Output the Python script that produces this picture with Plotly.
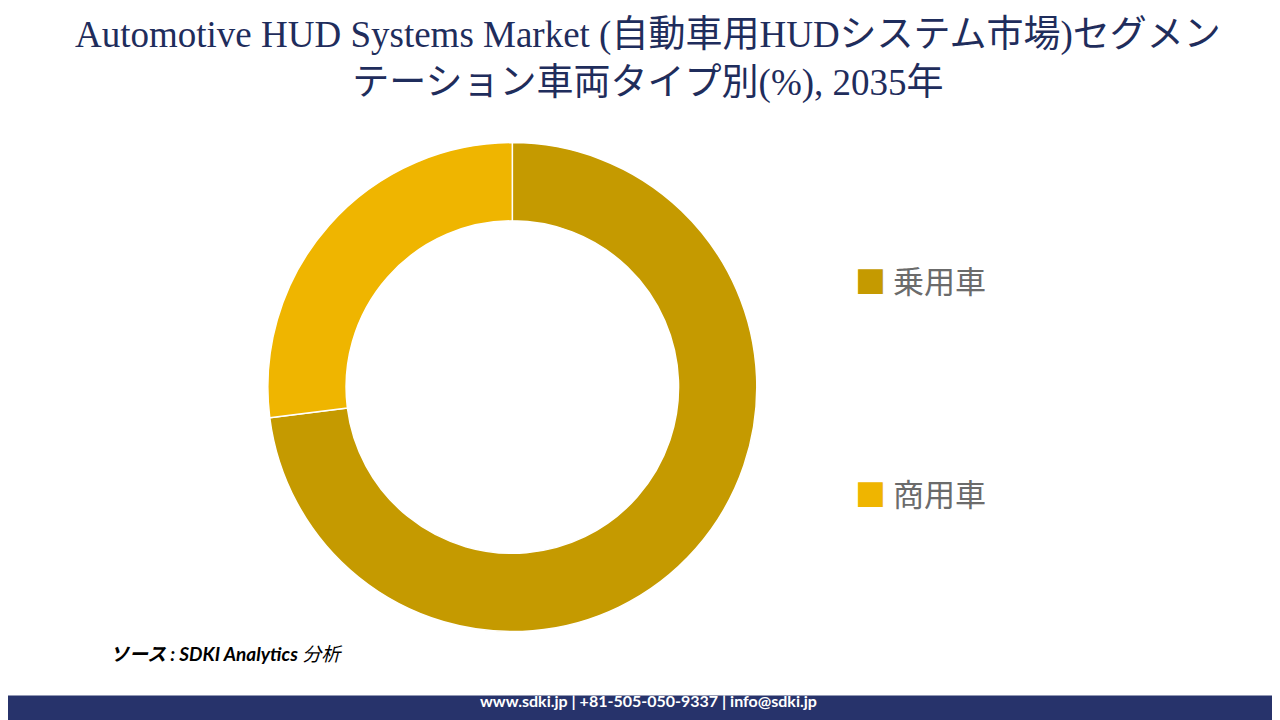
import plotly.graph_objects as go

# vehicle type share, 2035 (%)
labels = ["乗用車", "商用車"]
values = [73, 27]
colors = ["#c59a00", "#efb500"]

title = ("Automotive HUD Systems Market (自動車用HUDシステム市場)セグメン<br>"
         "テーション車両タイプ別(%), 2035年")

fig = go.Figure()
fig.add_trace(go.Pie(
    labels=labels, values=values, hole=0.68, sort=False, direction="clockwise",
    rotation=0, marker=dict(colors=colors, line=dict(color="white", width=1.5)),
    textinfo="none", hoverinfo="label+percent", showlegend=False,
    domain=dict(x=[0.203, 0.585], y=[0.133, 0.814]),
))

# legend drawn by hand so the entries sit far apart
leg_y = [0.623, 0.327]
for lab, col, y in zip(labels, colors, leg_y):
    fig.add_annotation(x=0.66, y=y, xref="paper", yref="paper", xanchor="left",
                       yanchor="middle", showarrow=False,
                       text=f"<span style='color:{col}'>■</span> {lab}",
                       font=dict(size=31, color="#6b6b6b",
                                 family="Noto Sans CJK JP"))

fig.add_annotation(x=0.5, y=0.995, xref="paper", yref="paper", yanchor="top",
                   showarrow=False, text=title,
                   font=dict(size=37, color="#1f2d5c",
                             family="Liberation Serif, Noto Sans CJK JP"))

fig.add_annotation(x=0.078, y=0.085, xref="paper", yref="paper", xanchor="left",
                   showarrow=False, text="<i><b>ソース : SDKI Analytics</b> 分析</i>",
                   font=dict(size=19, color="black", family="Lato, Noto Sans CJK JP"))

fig.add_shape(type="rect", xref="paper", yref="paper", x0=-0.01, x1=1.01, y0=-0.01, y1=0.045,
              fillcolor="#27336b", line_width=0)
fig.add_annotation(x=0.5, y=0.0225, xref="paper", yref="paper", showarrow=False,
                   text="<b>www.sdki.jp | +81-505-050-9337 | info@sdki.jp</b>",
                   font=dict(size=16, color="white", family="Lato"))

fig.update_layout(width=1280, height=720, margin=dict(l=0, r=0, t=0, b=0),
                  paper_bgcolor="white", plot_bgcolor="white")

fig.write_html("out.html")
